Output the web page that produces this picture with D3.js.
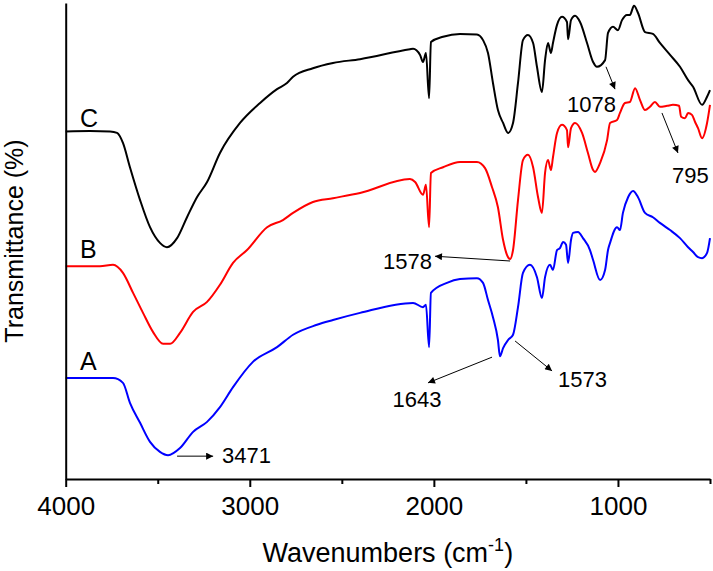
<!DOCTYPE html>
<html>
<head>
<meta charset="utf-8">
<script src="https://cdn.jsdelivr.net/npm/d3@7"></script>
<style>
  html, body { margin: 0; padding: 0; background: #fff; }
  svg { display: block; }
  text { font-family: "Liberation Sans", Arial, Helvetica, sans-serif; fill: #000; }
</style>
</head>
<body>
<svg id="chart" width="713" height="571"></svg>
<script>
// ---- Data (wavenumber cm^-1, transmittance arbitrary %) ----
const wnC = [4000,3868,3759,3721,3689,3651,3596,3542,3488,3450,3395,3341,3287,3232,3162,3053,2944,2852,2798,2765,2657,2548,2401,2130,2113,2075,2059,2043,2026,2016,1950,1858,1766,1733,1706,1679,1652,1624,1597,1570,1543,1516,1489,1461,1440,1413,1396,1380,1364,1353,1331,1304,1277,1271,1255,1233,1206,1168,1135,1114,1070,1054,1027,1000,978,951,935,913,891,853,810,772,717,663,619,592,543,516,500];
const tC  = [73.0,73.1,73.0,72.7,70.6,65.5,58.6,52.9,49.6,48.7,50.6,55.0,59.2,62.4,68.5,74.8,79.0,81.9,83.2,84.5,86.3,87.4,88.2,90.3,90.4,89.1,87.6,89.5,80.0,91.8,92.9,93.5,93.4,92.2,89.5,83.2,77.5,74.8,72.7,74.8,83.2,92.2,93.3,91.6,86.6,81.3,88.0,91.6,89.5,91.6,95.4,97.1,96.0,92.4,96.4,97.3,96.0,91.6,87.6,86.6,88.0,93.7,95.0,94.3,96.4,97.5,97.5,99.4,97.9,93.9,93.5,91.6,89.1,86.6,83.8,82.4,78.6,80.3,81.7];

const wnB = [4000,3814,3743,3689,3634,3580,3526,3471,3433,3379,3308,3232,3162,3091,3015,2906,2820,2765,2657,2548,2401,2130,2102,2059,2043,2026,2016,1950,1858,1766,1722,1684,1652,1624,1603,1586,1570,1543,1516,1489,1461,1434,1413,1396,1380,1364,1353,1331,1304,1277,1271,1255,1233,1195,1163,1135,1125,1097,1059,1043,1005,989,962,935,907,880,853,826,799,772,733,701,668,657,636,619,598,581,565,543,516,500];
const tB  = [44.7,44.7,45.0,43.3,39.1,34.9,30.9,28.4,28.4,30.7,35.1,37.2,40.8,45.4,48.1,52.9,54.4,55.9,58.2,59.0,60.1,63.0,62.4,59.7,61.8,52.9,64.3,65.5,66.6,66.6,65.3,61.3,57.1,50.2,47.1,46.2,48.1,58.6,67.0,68.1,65.5,59.2,55.9,64.3,67.0,64.9,67.6,72.7,74.4,73.3,69.7,73.7,74.8,72.7,68.5,64.9,64.5,66.4,71.2,74.8,75.4,76.9,79.0,79.2,82.1,79.6,77.5,78.2,79.2,78.2,78.4,78.6,78.4,76.1,75.8,76.9,76.5,75.0,73.7,71.6,74.8,78.6];

const wnA = [4000,3814,3743,3689,3651,3596,3542,3488,3444,3379,3308,3232,3162,3091,2983,2852,2765,2635,2548,2401,2113,2059,2043,2026,2016,1929,1858,1766,1733,1706,1679,1652,1641,1624,1597,1570,1543,1516,1478,1440,1413,1396,1369,1353,1331,1315,1298,1282,1271,1255,1244,1217,1190,1152,1135,1097,1070,1054,1043,1005,989,973,945,918,891,853,810,772,717,663,619,592,565,543,516,500];
const tA  = [21.2,21.2,21.2,20.2,16.0,11.8,7.8,5.7,5.0,6.5,9.9,12.0,15.1,19.3,24.6,27.7,30.3,32.4,33.4,34.9,37.0,36.1,36.6,27.7,39.1,41.2,42.0,42.2,41.2,37.6,34.0,29.2,25.8,27.5,29.2,30.3,36.1,43.3,45.0,42.4,38.0,42.4,45.0,43.9,48.1,48.5,49.8,49.2,45.4,50.2,51.7,51.9,50.6,48.1,46.0,41.8,43.9,48.1,49.6,52.9,52.3,55.9,59.2,60.5,59.2,55.9,55.0,53.8,52.3,50.6,48.7,47.7,46.6,46.4,47.5,50.6];

const majorTicks = [4000, 3000, 2000, 1000];
const minorTicks = [3500, 2500, 1500, 500];

const curveLabels = [
  { name: "C", wn: 3922, t: 73.9 },
  { name: "B", wn: 3922, t: 46.4 },
  { name: "A", wn: 3922, t: 22.9 }
];

// annotations: arrow from (wn1,t1) to (wn2,t2), text at (tw,tt)
const annotations = [
  { label: "3471", wn1: 3395, t1: 4.8,  wn2: 3199, t2: 4.8,  tw: 3151, tt: 3.4,  anchor: "start" },
  { label: "1578", wn1: 1586, t1: 45.8, wn2: 1994, t2: 46.8, tw: 2010, tt: 44.1, anchor: "end" },
  { label: "1643", wn1: 1684, t1: 25.6, wn2: 2032, t2: 20.2, tw: 2092, tt: 15.1, anchor: "middle" },
  { label: "1573", wn1: 1559, t1: 29.0, wn2: 1358, t2: 22.7, tw: 1326, tt: 19.3, anchor: "start" },
  { label: "1078", wn1: 1065, t1: 86.6, wn2: 1016, t2: 81.9, tw: 1277, tt: 77.1, anchor: "start" },
  { label: "795",  wn1: 761,  t1: 76.9, wn2: 674,  t2: 68.5, tw: 706,  tt: 62.2, anchor: "start" }
];

// ---- Drawing ----
const svg = d3.select("#chart");
const x = d3.scaleLinear().domain([4000, 500]).range([65.7, 710]);
const y = d3.scaleLinear().domain([0, 100]).range([479, 3]);

const defs = svg.append("defs");
defs.append("marker")
  .attr("id", "arrow")
  .attr("markerUnits", "userSpaceOnUse")
  .attr("viewBox", "0 0 10 10")
  .attr("refX", 10).attr("refY", 5)
  .attr("markerWidth", 11).attr("markerHeight", 7)
  .attr("orient", "auto")
  .append("path").attr("d", "M0,0 L10,5 L0,10 Z").attr("fill", "#000");

const line = d3.line().x(d => x(d[0])).y(d => y(d[1])).curve(d3.curveMonotoneX);

const series = [
  { wn: wnC, t: tC, color: "#000000" },
  { wn: wnB, t: tB, color: "#ff0000" },
  { wn: wnA, t: tA, color: "#0000ff" }
];
series.forEach(s => {
  svg.append("path")
    .datum(s.wn.map((w, i) => [w, s.t[i]]))
    .attr("fill", "none")
    .attr("stroke", s.color)
    .attr("stroke-width", 2)
    .attr("stroke-linejoin", "round")
    .attr("d", line);
});

// axes
const gx = svg.append("g").attr("transform", `translate(0,${y(0)})`);
gx.call(d3.axisBottom(x).tickValues(majorTicks).tickSize(8).tickPadding(10).tickSizeOuter(0).tickFormat(d3.format("d")));
const gxm = svg.append("g").attr("transform", `translate(0,${y(0)})`);
gxm.call(d3.axisBottom(x).tickValues(minorTicks).tickSize(5).tickSizeOuter(0).tickFormat(""));
gxm.select(".domain").remove();
[gx, gxm].forEach(g => {
  g.selectAll("line").attr("stroke", "#000").attr("stroke-width", 2);
  g.select(".domain").attr("stroke", "#000").attr("stroke-width", 2);
});
gx.selectAll("text").attr("font-size", 26).attr("font-family", "Liberation Sans, Arial, sans-serif").attr("fill", "#000");

// left axis line (no ticks)
const gy = svg.append("g").attr("transform", `translate(${x(4000)},0)`);
gy.call(d3.axisLeft(y).tickValues([]).tickSizeOuter(0));
gy.select(".domain").attr("stroke", "#000").attr("stroke-width", 2);

// axis titles
const xt = svg.append("text")
  .attr("x", (x(4000) + x(500)) / 2).attr("y", 562)
  .attr("text-anchor", "middle").attr("font-size", 27);
xt.append("tspan").text("Wavenumbers (cm");
xt.append("tspan").attr("font-size", 18).attr("dy", -11).text("-1");
xt.append("tspan").attr("dy", 11).text(")");

svg.append("text")
  .attr("transform", `translate(23,${(y(0) + y(100)) / 2}) rotate(-90)`)
  .attr("text-anchor", "middle").attr("font-size", 25)
  .text("Transmittance (%)");

// curve labels
svg.selectAll(".clabel").data(curveLabels).enter().append("text")
  .attr("class", "clabel")
  .attr("x", d => x(d.wn)).attr("y", d => y(d.t))
  .attr("font-size", 25).text(d => d.name);

// annotations
annotations.forEach(a => {
  svg.append("line")
    .attr("x1", x(a.wn1)).attr("y1", y(a.t1))
    .attr("x2", x(a.wn2)).attr("y2", y(a.t2))
    .attr("stroke", "#000").attr("stroke-width", 1)
    .attr("marker-end", "url(#arrow)");
  svg.append("text")
    .attr("x", x(a.tw)).attr("y", y(a.tt))
    .attr("text-anchor", a.anchor).attr("font-size", 22)
    .text(a.label);
});
</script>
</body>
</html>
